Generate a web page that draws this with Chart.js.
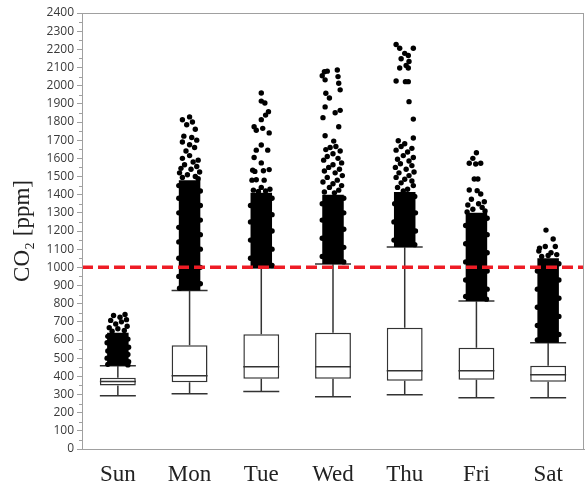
<!DOCTYPE html>
<html>
<head>
<meta charset="utf-8">
<script src="https://cdn.jsdelivr.net/npm/chart.js@4/dist/chart.umd.min.js"></script>
<style>
  body { margin: 0; background: #fff; }
</style>
</head>
<body>
<canvas id="co2" width="587" height="485"></canvas>
<script>
// box plot per weekday
const days = ["Sun", "Mon", "Tue", "Wed", "Thu", "Fri", "Sat"];
const whiskLo = [293, 304, 317, 288, 299, 282, 282];
const q1 = [350, 367, 387, 387, 376, 381, 370];
const median = [372, 403, 453, 453, 431, 431, 409];
const q3 = [392, 571, 631, 640, 668, 558, 458];
const whiskHi = [458, 872, 996, 1018, 1112, 815, 585];
// the outliers are packed solid above the upper whisker up to here
const denseTop = [640, 1480, 1410, 1400, 1415, 1300, 1050];
const limit = 1000;
const yTicks = { min: 0, max: 2400, step: 100 };

// loose outliers: [jitter, ppm]
const sunOut = [[-0.06,735],[0.1,740],[0.03,725],[0.12,712],[-0.1,708],[0.05,700],[-0.03,688],[0.13,676],[-0.12,668],[0,662],[0.09,652],[-0.08,648],
  [-0.14,620],[0.14,605],[-0.15,585],[0.15,560],[-0.14,540],[0.14,520],[-0.15,500],[0.15,480],[-0.14,466],[0.14,463]];
const monOut = [[0,1828],[-0.1,1812],[0.04,1800],[-0.04,1785],[0.08,1760],[-0.08,1722],[0.03,1715],[0.1,1700],[-0.1,1690],[0,1675],[0.07,1660],[-0.05,1640],
  [0,1615],[-0.1,1600],[0.12,1590],[0.05,1580],[-0.07,1565],[0.1,1555],[-0.12,1545],[0.02,1540],[0.14,1525],[-0.14,1520],[-0.03,1510],[0.08,1500],[-0.1,1495],[0.12,1488],
  [-0.15,1450],[0.15,1420],[-0.15,1380],[0.15,1340],[-0.15,1300],[0.15,1260],[-0.15,1220],[0.15,1180],[-0.15,1140],[0.15,1100],[-0.15,1050],[0.15,1000],[-0.15,950],[0.15,910],[-0.14,885]];
const tueOut = [[0,1960],[0,1915],[0.05,1905],[0.1,1857],[0.06,1838],[0,1813],[-0.1,1774],[0.02,1765],[-0.07,1755],[0.11,1740],
  [0,1673],[-0.07,1645],[0.09,1645],[-0.1,1605],[0,1575],[-0.12,1535],[-0.09,1528],[0.03,1532],[0.11,1538],
  [-0.13,1480],[-0.07,1482],[0.04,1480],[0,1440],[0.12,1430],[-0.11,1425],[0.06,1420],[-0.04,1418],
  [0.15,1380],[-0.15,1340],[0.15,1290],[-0.15,1250],[0.15,1200],[-0.15,1150],[0.15,1100],[-0.15,1050],[0.15,1010]];
const wedOut = [[-0.12,2077],[-0.08,2080],[0.06,2086],[0.07,2050],[-0.15,2055],[0.08,2013],[-0.11,2032],[0.1,1977],[-0.1,1958],[-0.05,1932],[-0.11,1883],[0.1,1864],[0.03,1851],[-0.14,1824],[0.08,1774],[-0.11,1724],
  [0.01,1695],[0.04,1665],[-0.04,1660],[-0.1,1648],[0.1,1640],[0,1625],[-0.08,1610],[0.07,1600],[-0.13,1590],[0.12,1575],[0,1565],[-0.06,1550],[0.09,1540],[-0.12,1530],[0.03,1520],[0.13,1505],[-0.08,1495],[0.06,1480],[-0.14,1470],[0,1460],[0.12,1450],[-0.05,1440],[0.08,1425],[-0.12,1415],[0.02,1410],
  [0.15,1380],[-0.15,1350],[0.15,1300],[-0.15,1260],[0.15,1210],[-0.15,1160],[0.15,1110],[-0.15,1060],[0.15,1030]];
const thuOut = [[-0.12,2227],[-0.07,2206],[0.12,2206],[0,2178],[0.05,2166],[-0.05,2148],[0.06,2133],[0.02,2111],[-0.07,2097],[0.05,2097],[-0.12,2026],[0.01,2022],[0.05,2022],[0.06,1912],[0.12,1816],[0.12,1712],[-0.09,1697],
  [0,1680],[-0.05,1665],[0.1,1655],[-0.12,1645],[0.04,1635],[-0.02,1615],[0.12,1605],[-0.1,1595],[0.06,1585],[-0.06,1570],[0.1,1560],[-0.13,1550],[0.02,1540],[0.13,1525],[-0.08,1520],[0.06,1505],[-0.12,1495],[0,1485],[0.1,1475],[-0.05,1465],[0.12,1450],[-0.1,1440],[0.04,1430],[-0.02,1420],
  [0.14,1390],[-0.14,1350],[0.15,1300],[-0.15,1250],[0.15,1200],[-0.15,1150],[0.14,1125]];
const friOut = [[0,1631],[-0.05,1600],[-0.1,1573],[-0.01,1569],[0.06,1573],[0.02,1486],[-0.03,1486],[-0.1,1426],[0.01,1422],[0.06,1404],[-0.07,1375],[0.11,1361],[-0.12,1343],[0.03,1350],[0.08,1330],[-0.05,1320],[0.12,1310],[-0.13,1305],
  [0.15,1270],[-0.15,1230],[0.15,1180],[-0.15,1130],[0.15,1080],[-0.15,1030],[0.15,980],[-0.15,930],[0.15,880],[-0.15,840],[0.14,825]];
const satOut = [[-0.03,1205],[0.07,1156],[-0.12,1106],[-0.04,1115],[0.1,1115],[0.04,1080],[0.12,1070],[-0.09,1060],[0,1065],[-0.13,1090],
  [0.15,1020],[-0.15,980],[0.15,930],[-0.15,880],[0.15,830],[-0.15,780],[0.15,730],[-0.15,680],[0.15,630],[-0.15,600]];
const outliers = [sunOut, monOut, tueOut, wedOut, thuOut, friOut, satOut];

const ink = "#333333";
const axisGray = "#a0a0a0";

// build the helper tables from the arrays above
const outPts = [];
outliers.forEach((list, i) => list.forEach(p => outPts.push({ x: i + p[0], y: p[1] })));

const stems = [];
days.forEach((d, i) => {
  stems.push({ x: i, y: whiskLo[i] }, { x: i, y: q1[i] }, { x: i, y: null });
  stems.push({ x: i, y: q3[i] }, { x: i, y: whiskHi[i] }, { x: i, y: null });
});

const hLines = [];
days.forEach((d, i) => {
  hLines.push({ x: i, y: whiskLo[i] }, { x: i, y: median[i] }, { x: i, y: whiskHi[i] });
});

// frame around plot + short minor ticks every 50
const framePlugin = {
  id: "frame",
  afterDraw(chart) {
    const { ctx, chartArea: a, scales } = chart;
    ctx.save();
    ctx.strokeStyle = axisGray;
    ctx.lineWidth = 1;
    ctx.strokeRect(a.left + 0.5, a.top + 0.5, a.right - a.left - 1, a.bottom - a.top);
    for (let v = yTicks.min + yTicks.step / 2; v < yTicks.max; v += yTicks.step) {
      const py = Math.round(scales.y.getPixelForValue(v)) + 0.5;
      ctx.beginPath();
      ctx.moveTo(a.left - 3, py);
      ctx.lineTo(a.left, py);
      ctx.stroke();
    }
    ctx.restore();
  }
};

new Chart(document.getElementById("co2"), {
  type: "bar",
  data: {
    datasets: [
      {
        type: "line", data: [{ x: -0.5, y: limit }, { x: 6.5, y: limit }],
        borderColor: "#ee1c25", borderWidth: 3.5, borderDash: [11, 5], pointRadius: 0, order: 0
      },
      {
        type: "scatter", data: outPts,
        pointRadius: 2.7, pointBackgroundColor: "#000", pointBorderWidth: 0, order: 1
      },
      {
        type: "bar", data: days.map((d, i) => ({ x: i, y: [whiskHi[i], denseTop[i]] })),
        backgroundColor: "#000", barPercentage: 0.3, categoryPercentage: 1, grouped: false, order: 2
      },
      {
        type: "scatter", data: hLines,
        pointStyle: "line", pointRadius: 18, pointBorderColor: ink, pointBorderWidth: 1.5, order: 3
      },
      {
        type: "bar", data: days.map((d, i) => ({ x: i, y: [q1[i], q3[i]] })),
        backgroundColor: "#fff", borderColor: ink, borderWidth: 1.5, borderSkipped: false,
        barPercentage: 0.5, categoryPercentage: 1, grouped: false, order: 4
      },
      {
        type: "line", data: stems, spanGaps: false,
        borderColor: ink, borderWidth: 1.5, pointRadius: 0, order: 5
      }
    ]
  },
  options: {
    responsive: false,
    animation: false,
    devicePixelRatio: 1,
    layout: { autoPadding: false, padding: { top: 13, right: 3, left: 0, bottom: 0 } },
    plugins: { legend: { display: false }, tooltip: { enabled: false } },
    scales: {
      x: {
        type: "linear", min: -0.5, max: 6.5, offset: false,
        afterBuildTicks(s) { s.ticks = days.map((d, i) => ({ value: i })); },
        grid: { drawOnChartArea: false, drawTicks: false },
        border: { color: axisGray },
        ticks: {
          font: { family: "Liberation Serif", size: 23 }, color: "#222", padding: 12,
          callback: v => days[v]
        },
        afterFit(s) { s.height = 36; s.paddingLeft = 0; s.paddingRight = 0; }
      },
      y: {
        min: yTicks.min, max: yTicks.max,
        ticks: {
          stepSize: yTicks.step, autoSkip: false, font: { family: "Open Sans", size: 12 }, color: "#3a3a3a", padding: 3,
          callback: v => String(v)
        },
        grid: { drawOnChartArea: false, tickLength: 5, color: axisGray },
        border: { color: axisGray },
        title: { display: true, text: "CO₂ [ppm]", font: { family: "Liberation Serif", size: 23 }, color: "#222", padding: { top: 9, bottom: 0 } },
        afterFit(s) { s.width = 82; }
      }
    }
  },
  plugins: [framePlugin]
});
</script>
</body>
</html>
